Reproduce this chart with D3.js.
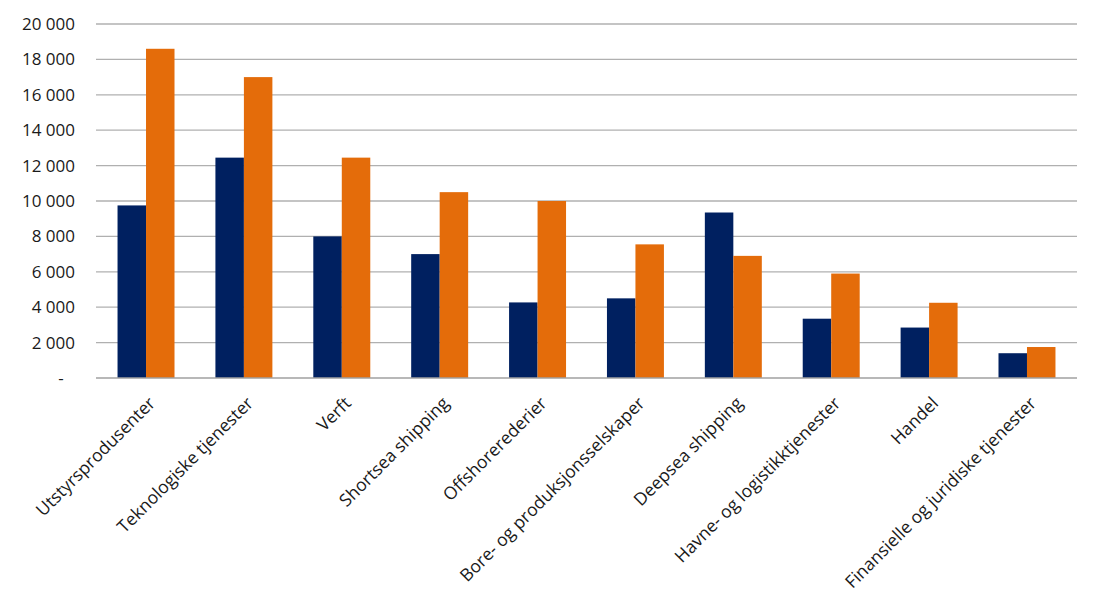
<!DOCTYPE html>
<html>
<head>
<meta charset="utf-8">
<script src="https://cdn.jsdelivr.net/npm/d3@7"></script>
<style>
  body { margin: 0; background: #fff; }
  #chart text { font-family: "Open Sans", sans-serif; fill: #1a1a1a; }
</style>
</head>
<body>
<div id="chart"></div>
<script>
var categories = ["Utstyrsprodusenter", "Teknologiske tjenester", "Verft", "Shortsea shipping",
                  "Offshorerederier", "Bore- og produksjonsselskaper", "Deepsea shipping",
                  "Havne- og logistikktjenester", "Handel", "Finansielle og juridiske tjenester"];
var seriesA = [9750, 12450, 8000, 7000, 4270, 4500, 9350, 3350, 2850, 1400];
var seriesB = [18600, 17000, 12450, 10500, 10000, 7550, 6900, 5900, 4250, 1750];
var yTicks = [0, 2000, 4000, 6000, 8000, 10000, 12000, 14000, 16000, 18000, 20000];

var width = 1093, height = 606;
var margin = {top: 24, right: 16, bottom: 228, left: 96};

var svg = d3.select("#chart").append("svg")
    .attr("width", width)
    .attr("height", height);

var x = d3.scaleBand()
    .domain(categories)
    .range([margin.left, width - margin.right])
    .paddingInner(0.418)
    .paddingOuter(0.22);

var x2 = d3.scaleBand()
    .domain(["a", "b"])
    .range([0, x.bandwidth()]);

var y = d3.scaleLinear()
    .domain([0, 20000])
    .range([height - margin.bottom, margin.top]);

// gridlines
svg.append("g")
    .selectAll("line")
    .data(yTicks.slice(1))
    .enter().append("line")
    .attr("x1", margin.left)
    .attr("x2", width - margin.right)
    .attr("y1", function(d){ return y(d); })
    .attr("y2", function(d){ return y(d); })
    .attr("stroke", "#b0b0b0")
    .attr("stroke-width", 1.3);

// y labels
var fmt = function(d){ return d === 0 ? "-" : d3.format(",")(d).replace(/,/g, " "); };
svg.append("g")
    .selectAll("text")
    .data(yTicks)
    .enter().append("text")
    .attr("x", function(d){ return d === 0 ? 61 : 75; })
    .attr("y", function(d){ return y(d); })
    .attr("dy", "0.35em")
    .attr("text-anchor", function(d){ return d === 0 ? "middle" : "end"; })
    .style("font-size", "17px")
    .text(fmt);

// bars
var groups = svg.append("g")
    .selectAll("g")
    .data(categories)
    .enter().append("g")
    .attr("transform", function(d){ return "translate(" + x(d) + ",0)"; });

groups.append("rect")
    .attr("x", x2("a"))
    .attr("width", x2.bandwidth())
    .attr("y", function(d, i){ return y(seriesA[i]); })
    .attr("height", function(d, i){ return y(0) - y(seriesA[i]); })
    .attr("fill", "#002060");

groups.append("rect")
    .attr("x", x2("b"))
    .attr("width", x2.bandwidth())
    .attr("y", function(d, i){ return y(seriesB[i]); })
    .attr("height", function(d, i){ return y(0) - y(seriesB[i]); })
    .attr("fill", "#E46C0A");

// x axis line
svg.append("line")
    .attr("x1", margin.left)
    .attr("x2", width - margin.right)
    .attr("y1", y(0))
    .attr("y2", y(0))
    .attr("stroke", "#a0a0a0")
    .attr("stroke-width", 1.3);

// category labels
svg.append("g")
    .selectAll("text")
    .data(categories)
    .enter().append("text")
    .attr("transform", function(d){
        return "translate(" + (x(d) + x.bandwidth() / 2 + 6) + "," + (y(0) + 22) + ") rotate(-45)";
    })
    .attr("text-anchor", "end")
    .attr("dy", "0.35em")
    .style("font-size", "17.5px")
    .text(function(d){ return d; });
</script>
</body>
</html>
